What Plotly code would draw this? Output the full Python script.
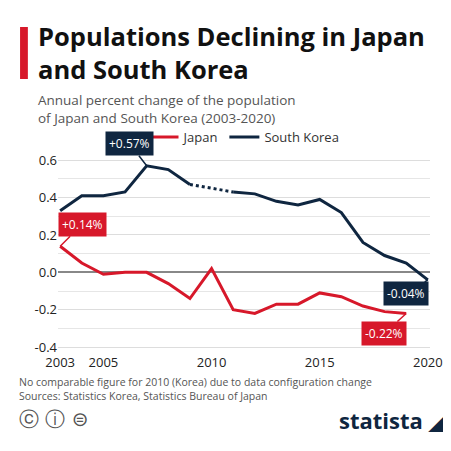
import plotly.graph_objects as go

years_jp = list(range(2003, 2020))
japan = [0.14,0.05,-0.01,0,0,-0.06,-0.14,0.02,-0.20,-0.22,-0.17,-0.17,-0.11,-0.13,-0.18,-0.21,-0.22]
years_kr1 = list(range(2003, 2010))
korea1 = [0.33,0.41,0.41,0.43,0.57,0.55,0.47]
years_kr2 = list(range(2011, 2021))
korea2 = [0.43,0.42,0.38,0.36,0.39,0.32,0.16,0.09,0.05,-0.04]
xticks = [2003, 2005, 2010, 2015, 2020]

RED = "#d7182a"; NAVY = "#0f2640"
F = "Open Sans"
fig = go.Figure()
fig.add_trace(go.Scatter(x=years_jp, y=japan, mode="lines", line=dict(color=RED, width=3), name="Japan"))
fig.add_trace(go.Scatter(x=years_kr1, y=korea1, mode="lines", line=dict(color=NAVY, width=3), name="South Korea"))
fig.add_trace(go.Scatter(x=[years_kr1[-1], years_kr2[0]], y=[korea1[-1], korea2[0]], mode="lines",
                         line=dict(color=NAVY, width=3, dash="dot"), showlegend=False))
fig.add_trace(go.Scatter(x=years_kr2, y=korea2, mode="lines", line=dict(color=NAVY, width=3), showlegend=False))

def lab(x, y, t, c, ax, ay):
    fig.add_annotation(x=x, y=y, text=t, showarrow=True, arrowhead=0, arrowcolor=c, arrowwidth=1.5, ax=ax, ay=ay,
                       bgcolor=c, font=dict(color="white", size=12, family=F), borderpad=3)
lab(2007, 0.57, "+0.57%", NAVY, -17, -22)
lab(2003, 0.14, "+0.14%", RED, 22, -22)
lab(2020, -0.04, "-0.04%", NAVY, -22, 14)
lab(2019, -0.22, "-0.22%", RED, -22, 20)

fig.add_shape(type="rect", xref="paper", yref="paper", x0=-0.102, x1=-0.081, y0=1.35, y1=1.61,
              fillcolor=RED, line_width=0)
fig.add_annotation(xref="paper", yref="paper", x=-0.06, y=1.66, xanchor="left", yanchor="top", showarrow=False, align="left",
                   text="<b>Populations Declining in Japan<br>and South Korea</b>", font=dict(size=25.5, color="#111", family=F))
fig.add_annotation(xref="paper", yref="paper", x=-0.06, y=1.30, xanchor="left", yanchor="top", showarrow=False, align="left",
                   text="Annual percent change of the population<br>of Japan and South Korea (2003-2020)", font=dict(size=13.5, color="#555", family=F))
fig.add_annotation(xref="paper", yref="paper", x=-0.11, y=-0.12, xanchor="left", yanchor="top", showarrow=False, align="left",
                   text="No comparable figure for 2010 (Korea) due to data configuration change<br>Sources: Statistics Korea, Statistics Bureau of Japan",
                   font=dict(size=10.5, color="#555", family=F))
fig.add_annotation(xref="paper", yref="paper", x=-0.11, y=-0.28, xanchor="left", yanchor="top", showarrow=False,
                   text="ⓒ ⓘ ⊜", font=dict(size=20, color="#555", family="DejaVu Sans"))
fig.add_annotation(xref="paper", yref="paper", x=1.05, y=-0.27, xanchor="right", yanchor="top", showarrow=False,
                   text="<b>statista ◢</b>", font=dict(size=22, color=NAVY, family=F))

fig.update_layout(width=451, height=451, margin=dict(l=50, r=29, t=141, b=110),
                  plot_bgcolor="white", paper_bgcolor="white", showlegend=True,
                  legend=dict(orientation="h", x=0.5, xanchor="center", y=1.06, yanchor="middle", font=dict(size=13, family=F, color="#333")),
                  xaxis=dict(range=[2002.9, 2020.1], tickvals=xticks, showgrid=False, ticklabelstandoff=4, tickfont=dict(size=13, family=F, color="#222")),
                  yaxis=dict(range=[-0.41, 0.66], tickvals=[-0.4,-0.2,0,0.2,0.4,0.6], ticktext=["-0.4","-0.2","0.0","0.2","0.4","0.6"],
                             gridcolor="#ddd", zeroline=True, zerolinecolor="#888", tickfont=dict(size=13, family=F, color="#222"),
                             minor=dict(dtick=0.1, showgrid=True, gridcolor="#e6e6e6")))
fig.write_html("out.html")
